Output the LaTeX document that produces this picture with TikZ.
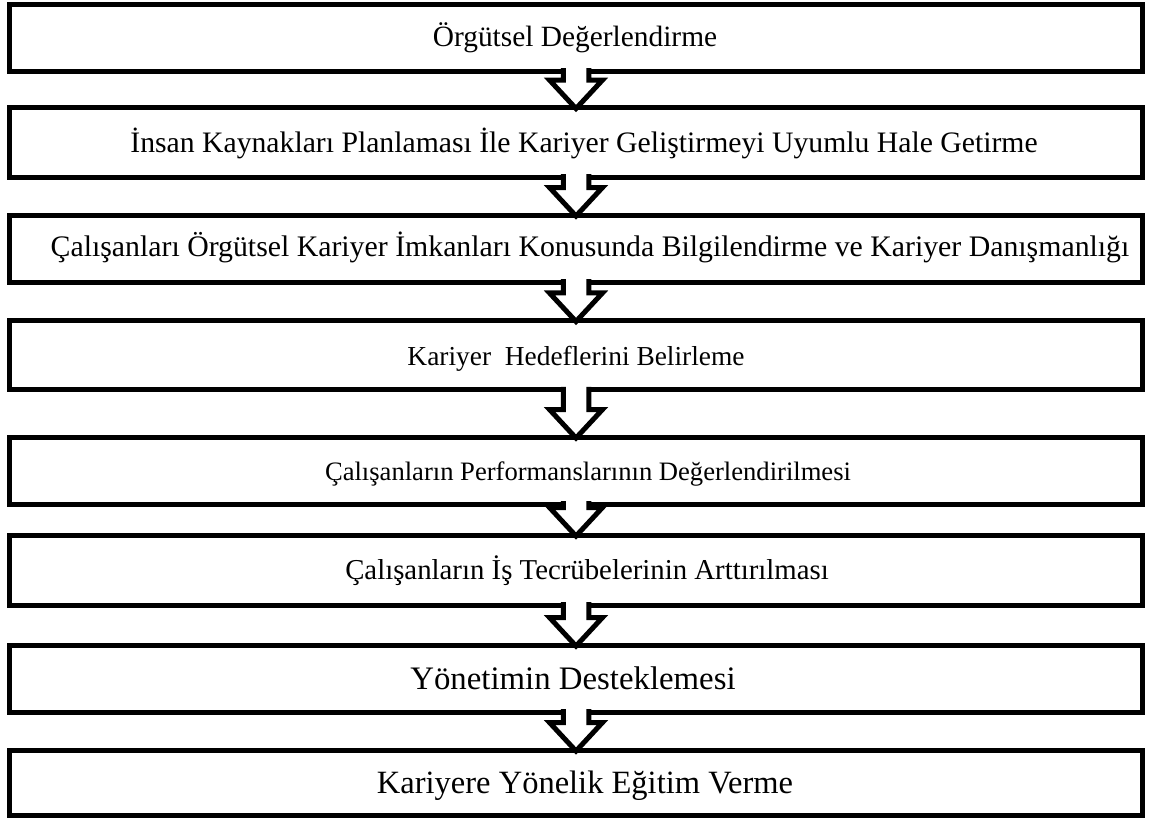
\documentclass[tikz,border=0pt]{standalone}
\usepackage{fontspec}
\setmainfont{Liberation Serif}
\usetikzlibrary{calc}

% hollow block arrow: notched shaft from the bottom of one step,
% fixed-size head ending on the top of the next
\newcommand\flowarrow[2]{%
  \draw[arrowline]
    ($(#1.south)+(-12.75,-3)$) -- ($(#2.north)+(-12.75,-27.5)$)
    -- ($(#2.north)+(-26.5,-27.5)$) -- ($(#2.north)+(0,1)$)
    -- ($(#2.north)+(26.5,-27.5)$) -- ($(#2.north)+(12.75,-27.5)$)
    -- ($(#1.south)+(12.75,-3)$);}

\begin{document}
\begin{tikzpicture}[x=1pt,y=-1pt,
  stepbox/.style={draw=black, line width=5pt, fill=white, rectangle,
    minimum width=1133pt, minimum height=#1, inner sep=0pt, outer sep=0pt},
  steptext/.style={anchor=base, inner sep=0pt, font=\fontsize{#1}{#1}\selectfont},
  arrowline/.style={draw=black, line width=5pt, fill=white, line join=miter}]

\useasboundingbox (0,0) rectangle (1152,823);

% step frames
\node[stepbox=66.5pt] (s1) at (576,37.8) {};
\node[stepbox=69.5pt] (s2) at (576,142.3) {};
\node[stepbox=67pt]   (s3) at (576,248.5) {};
\node[stepbox=69.5pt] (s4) at (576,355.2) {};
\node[stepbox=67pt]   (s5) at (576,470.5) {};
\node[stepbox=70pt]   (s6) at (576,570) {};
\node[stepbox=67pt]   (s7) at (576,678.5) {};
\node[stepbox=65pt]   (s8) at (576,782.5) {};

% step labels
\node[steptext=29.4] (t1) at (575,46) {Örgütsel Değerlendirme};
\node[steptext=29.7] (t2) at (584,152.5) {İnsan Kaynakları Planlaması İle Kariyer Geliştirmeyi Uyumlu Hale Getirme};
\node[steptext=29.8] (t3) at (590,256) {Çalışanları Örgütsel Kariyer İmkanları Konusunda Bilgilendirme ve Kariyer Danışmanlığı};
\node[steptext=27.4] (t4) at (576,365) {Kariyer\ \ Hedeflerini Belirleme};
\node[steptext=26.6] (t5) at (588,480) {Çalışanların Performanslarının Değerlendirilmesi};
\node[steptext=28.8] (t6) at (587,579.5) {Çalışanların İş Tecrübelerinin Arttırılması};
\node[steptext=32.8] (t7) at (573,689) {Yönetimin Desteklemesi};
\node[steptext=32.5] (t8) at (585,793) {Kariyere Yönelik Eğitim Verme};

% connectors
\flowarrow{s1}{s2}
\flowarrow{s2}{s3}
\flowarrow{s3}{s4}
\flowarrow{s4}{s5}
\flowarrow{s5}{s6}
\flowarrow{s6}{s7}
\flowarrow{s7}{s8}
\end{tikzpicture}
\end{document}
